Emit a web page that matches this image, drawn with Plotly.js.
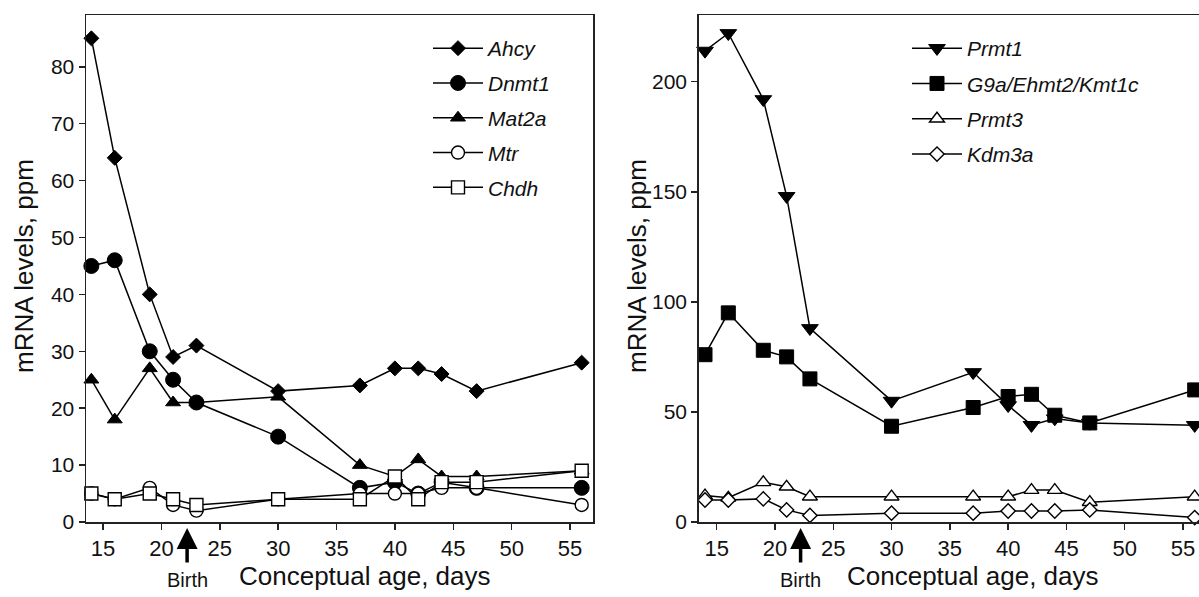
<!DOCTYPE html>
<html>
<head>
<meta charset="utf-8">
<script src="https://cdn.plot.ly/plotly-3.0.1.min.js"></script>
<style>
  html, body { margin: 0; padding: 0; background: #fff; overflow: hidden; }
  #chart { width: 1199px; height: 597px; }
</style>
</head>
<body>
<div id="chart"></div>
<script>
// ---- Data ----
const ages = [14, 16, 19, 21, 23, 30, 37, 40, 42, 44, 47, 56];

// Left panel
const ahcy  = [85, 64, 40, 29, 31, 23, 24, 27, 27, 26, 23, 28];
const dnmt1 = [45, 46, 30, 25, 21, 15, 6, 7, 5, 7, 6, 6];
const mat2a = [25, 18, 27, 21, 21, 22, 10, 8, 11, 8, 8, 9];
const mtr   = [5, 4, 6, 3, 2, 4, 5, 5, 5, 6, 6, 3];
const chdh  = [5, 4, 5, 4, 3, 4, 4, 8, 4, 7, 7, 9];

// Right panel
const prmt1 = [214, 222, 192, 148, 88, 55, 68, 53, 44, 47, 45, 44];
const g9a   = [76, 95, 78, 75, 65, 43.5, 52, 57, 58, 48.5, 45, 60];
const prmt3 = [12, 11, 18, 16, 11.5, 11.5, 11.5, 11.5, 14.5, 14.5, 9, 11.5];
const kdm3a = [10, 10, 10.5, 5.5, 3, 4, 4, 5, 5, 5, 5.5, 2];

const xTickVals = [15, 20, 25, 30, 35, 40, 45, 50, 55];
const leftYTicks = [0, 10, 20, 30, 40, 50, 60, 70, 80];
const rightYTicks = [0, 50, 100, 150, 200];
const birthAge = 22.2;

// ---- Styling ----
const FONT = 'Liberation Sans, Arial, Helvetica, sans-serif';
const LINE = {color: '#000', width: 1.5};

function tr(name, y, symbol, size, filled, xa, ya, legend, rank) {
  return {
    type: 'scatter', mode: 'lines+markers', name: name,
    x: ages, y: y, xaxis: xa, yaxis: ya, legend: legend, legendrank: rank,
    legendgroup: name,
    line: LINE,
    marker: {
      symbol: symbol, size: size,
      color: filled ? '#000' : '#fff',
      line: {color: '#000', width: filled ? 1 : 1.4}
    },
    cliponaxis: false,
    hoverinfo: 'x+y+name'
  };
}

const data = [
  tr('Ahcy',  ahcy,  'diamond', 11.5, true,  'x', 'y', 'legend', 1),
  tr('Mat2a', mat2a, 'triangle-up', 13, true, 'x', 'y', 'legend', 3),
  tr('Dnmt1', dnmt1, 'circle', 15, true, 'x', 'y', 'legend', 2),
  tr('Mtr',   mtr,   'circle', 13, false, 'x', 'y', 'legend', 4),
  tr('Chdh',  chdh,  'square', 13, false, 'x', 'y', 'legend', 5),
  tr('Prmt1', prmt1, 'triangle-down', 14.5, true, 'x2', 'y2', 'legend2', 1),
  tr('G9a/Ehmt2/Kmt1c', g9a, 'square', 14, true, 'x2', 'y2', 'legend2', 2),
  tr('Prmt3', prmt3, 'triangle-up', 13, false, 'x2', 'y2', 'legend2', 3),
  tr('Kdm3a', kdm3a, 'diamond', 11, false, 'x2', 'y2', 'legend2', 4)
];

const W = 1199, H = 597, MT = 15, MB = 75;
const PH = H - MT - MB;
const px = v => v / W;
const py = v => (H - MB - v) / PH;

const axisCommon = {
  showgrid: false, zeroline: false, showline: true,
  linecolor: '#222', linewidth: 1.5,
  ticks: 'outside', ticklen: 6, tickwidth: 1.5, tickcolor: '#222',
  tickmode: 'array'
};
const xTickFont = {family: FONT, size: 22, color: '#111'};
const yTickFont = {family: FONT, size: 21, color: '#111'};

const legendCommon = {
  font: {family: FONT, size: 21, color: '#111', style: 'italic'},
  bgcolor: 'rgba(0,0,0,0)', borderwidth: 0,
  xanchor: 'left', yanchor: 'top', itemwidth: 50,
  traceorder: 'grouped'
};

const layout = {
  width: W, height: H,
  margin: {l: 0, r: 0, t: MT, b: MB},
  paper_bgcolor: '#fff', plot_bgcolor: '#fff',
  showlegend: true,
  font: {family: FONT, color: '#111'},
  xaxis: Object.assign({}, axisCommon, {
    domain: [px(86), px(593)], range: [13.54, 56.97], tickfont: xTickFont,
    tickvals: xTickVals, mirror: true, anchor: 'y'
  }),
  yaxis: Object.assign({}, axisCommon, {
    domain: [0, 1], range: [0, 89.1], tickfont: yTickFont,
    tickvals: leftYTicks, mirror: true, anchor: 'x'
  }),
  xaxis2: Object.assign({}, axisCommon, {
    domain: [px(698.7), 1], range: [13.46, 56.37], tickfont: xTickFont,
    tickvals: xTickVals, mirror: true, anchor: 'y2'
  }),
  yaxis2: Object.assign({}, axisCommon, {
    domain: [0, 1], range: [0, 230.3], tickfont: yTickFont,
    tickvals: rightYTicks, mirror: false, anchor: 'x2'
  }),
  legend: Object.assign({}, legendCommon, {x: px(428), y: py(28), tracegroupgap: 4.5}),
  legend2: Object.assign({}, legendCommon, {x: px(907), y: py(28), tracegroupgap: 5}),
  annotations: [
    {text: 'mRNA levels, ppm', textangle: -90, xref: 'paper', yref: 'paper',
     x: px(24), y: py(266), xanchor: 'center', yanchor: 'middle', showarrow: false,
     font: {family: FONT, size: 26, color: '#111'}},
    {text: 'mRNA levels, ppm', textangle: -90, xref: 'paper', yref: 'paper',
     x: px(637), y: py(266), xanchor: 'center', yanchor: 'middle', showarrow: false,
     font: {family: FONT, size: 26, color: '#111'}},
    {text: 'Conceptual age, days', xref: 'paper', yref: 'paper',
     x: px(365), y: py(576), xanchor: 'center', yanchor: 'middle', showarrow: false,
     font: {family: FONT, size: 26, color: '#111'}},
    {text: 'Conceptual age, days', xref: 'paper', yref: 'paper',
     x: px(973), y: py(576), xanchor: 'center', yanchor: 'middle', showarrow: false,
     font: {family: FONT, size: 26, color: '#111'}},
    {text: 'Birth', xref: 'x', yref: 'paper', x: birthAge, y: py(580),
     xanchor: 'center', yanchor: 'middle', showarrow: false,
     font: {family: FONT, size: 20, color: '#111'}},
    {text: 'Birth', xref: 'x2', yref: 'paper', x: birthAge, y: py(580),
     xanchor: 'center', yanchor: 'middle', showarrow: false,
     font: {family: FONT, size: 20, color: '#111'}},
    {text: '', xref: 'x', yref: 'paper', x: birthAge, y: py(528),
     showarrow: true, axref: 'pixel', ayref: 'pixel', ax: 0, ay: 36,
     arrowhead: 2, arrowsize: 1.2, arrowwidth: 3.5, arrowcolor: '#000'},
    {text: '', xref: 'x2', yref: 'paper', x: birthAge, y: py(528),
     showarrow: true, axref: 'pixel', ayref: 'pixel', ax: 0, ay: 36,
     arrowhead: 2, arrowsize: 1.2, arrowwidth: 3.5, arrowcolor: '#000'}
  ]
};

Plotly.newPlot('chart', data, layout, {displayModeBar: false, staticPlot: true});
</script>
</body>
</html>
